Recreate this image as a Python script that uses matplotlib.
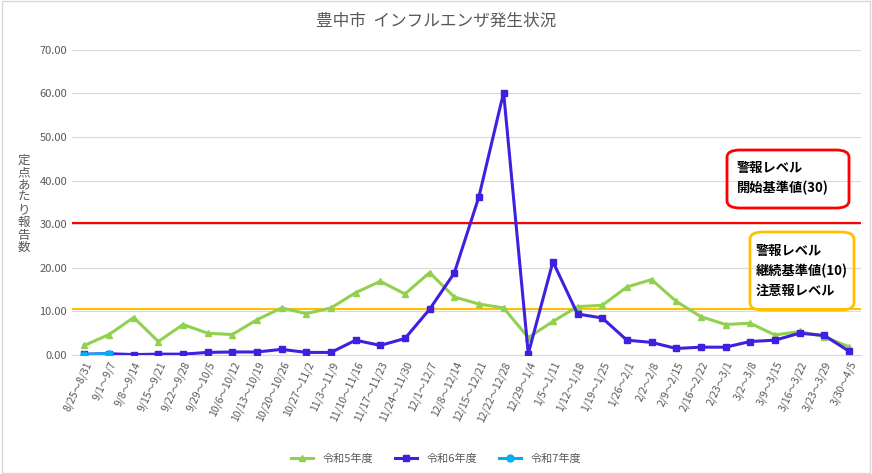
import matplotlib
matplotlib.use("Agg")
import matplotlib.pyplot as plt
from matplotlib.patches import FancyBboxPatch

plt.rcParams["font.family"] = ["Noto Sans CJK JP"]

weeks = ["8/25～8/31","9/1～9/7","9/8～9/14","9/15～9/21","9/22～9/28","9/29～10/5","10/6～10/12","10/13～10/19","10/20～10/26","10/27～11/2","11/3～11/9","11/10～11/16","11/17～11/23","11/24～11/30","12/1～12/7","12/8～12/14","12/15～12/21","12/22～12/28","12/29～1/4","1/5～1/11","1/12～1/18","1/19～1/25","1/26～2/1","2/2～2/8","2/9～2/15","2/16～2/22","2/23～3/1","3/2～3/8","3/9～3/15","3/16～3/22","3/23～3/29","3/30～4/5"]
r5 = [2.2,4.7,8.6,3.1,7.0,5.0,4.7,8.1,10.8,9.5,10.8,14.3,16.9,14.0,18.9,13.3,11.7,10.8,4.0,7.7,11.1,11.4,15.6,17.3,12.3,8.8,7.0,7.3,4.6,5.4,4.2,1.9]
r6 = [0.2,0.3,0.1,0.2,0.2,0.6,0.7,0.7,1.3,0.6,0.6,3.4,2.2,3.8,10.5,18.8,36.3,60.2,0.3,21.4,9.4,8.5,3.4,2.9,1.5,1.8,1.8,3.1,3.4,5.0,4.5,0.9]
r7 = [0.1,0.3]
warn_start = 30.3
warn_cont = 10.5

fig = plt.figure(figsize=(8.72,4.74), dpi=100)
ax = fig.add_axes([0.0826,0.251,0.905,0.644])
x = list(range(len(weeks)))
ax.axhline(warn_start, color="#ff0000", lw=1.5, zorder=1)
ax.axhline(warn_cont, color="#ffc000", lw=1.5, zorder=1)
ax.plot(x, r5, color="#92d050", lw=2.2, marker="^", ms=5, label="令和5年度", zorder=2)
ax.plot(x, r6, color="#3f1fe0", lw=2.2, marker="s", ms=5, label="令和6年度", zorder=3)
ax.plot(x[:len(r7)], r7, color="#00b0f0", lw=2.2, marker="o", ms=5, label="令和7年度", zorder=4)
ax.set_ylim(0,70)
ax.set_yticks(range(0,71,10))
ax.set_yticklabels([f"{v:.2f}" for v in range(0,71,10)], fontsize=8, color="#595959")
ax.set_xlim(-0.5, len(weeks)-0.5)
ax.set_xticks(x)
ax.set_xticklabels(weeks, rotation=65, ha="right", rotation_mode="anchor", fontsize=7.5, color="#595959")
ax.grid(axis="y", color="#d9d9d9", lw=0.8)
ax.set_axisbelow(True)
for s in ["top","right","left"]:
    ax.spines[s].set_visible(False)
ax.spines["bottom"].set_color("#d9d9d9")
ax.tick_params(length=0)
fig.text(0.5,0.955,"豊中市  インフルエンザ発生状況", ha="center", va="center", fontsize=12, color="#595959")
fig.text(0.027,0.57,"\n".join("定点あたり報告数"), ha="center", va="center", fontsize=9, color="#595959", linespacing=0.95)
fig.legend(loc="lower center", bbox_to_anchor=(0.5,0.0), ncol=3, frameon=False, fontsize=8, labelcolor="#595959")

b1 = FancyBboxPatch((727/872, 1-208/474), 122/872, 58/474, boxstyle="round,pad=0,rounding_size=0.015",
                    transform=fig.transFigure, fill=False, ec="#ff0000", lw=2)
b2 = FancyBboxPatch((750/872, 1-310/474), 104/872, 78/474, boxstyle="round,pad=0,rounding_size=0.015",
                    transform=fig.transFigure, fill=False, ec="#ffc000", lw=2)
fig.patches.extend([b1,b2])
fig.text(737/872, 1-178/474, "警報レベル\n開始基準値(30)", fontsize=9.5, fontweight="bold", va="center", linespacing=1.5)
fig.text(756/872, 1-271/474, "警報レベル\n継続基準値(10)\n注意報レベル", fontsize=9.5, fontweight="bold", va="center", linespacing=1.5)
fig.patches.append(FancyBboxPatch((0.002,0.002),0.996,0.996, boxstyle="square,pad=0", transform=fig.transFigure, fill=False, ec="#d9d9d9", lw=1))
fig.savefig("out.png")
